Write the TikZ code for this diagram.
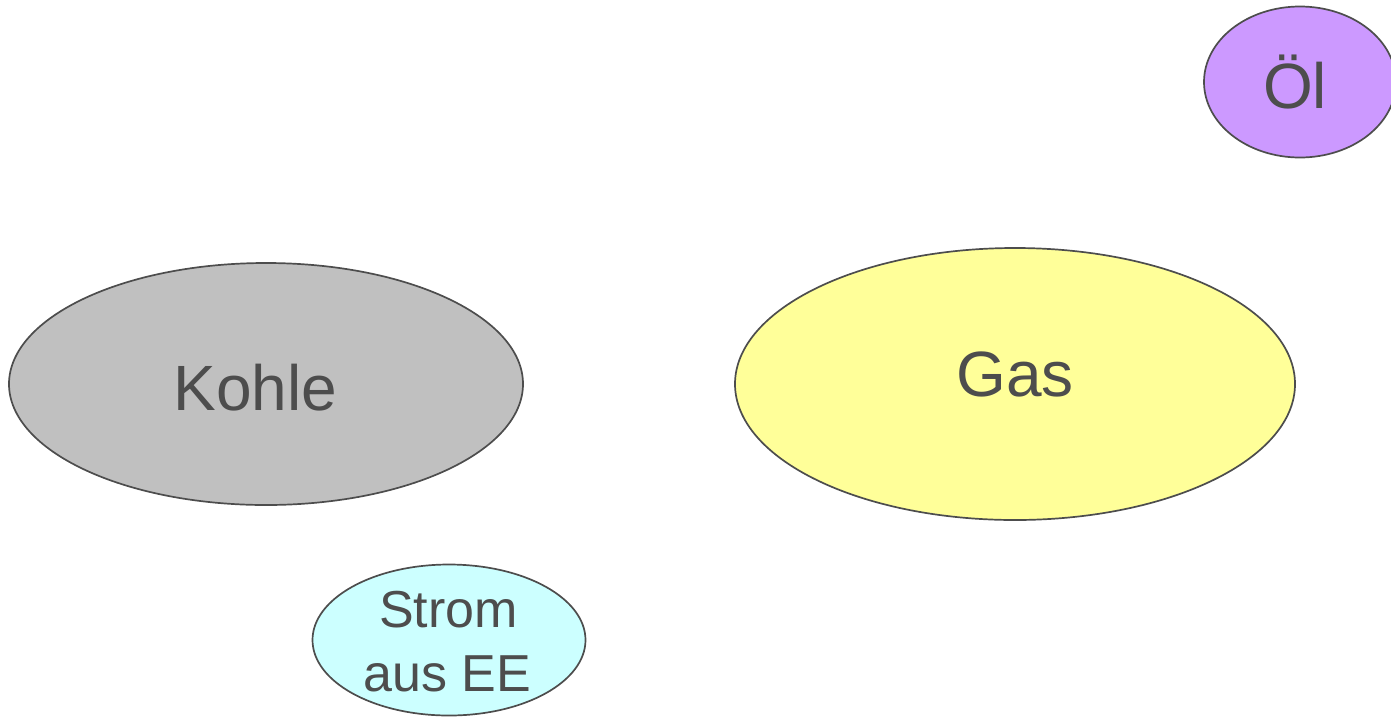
\documentclass[tikz,border=0pt]{standalone}
\usepackage{fontspec}
\setmainfont{Liberation Sans}
\usetikzlibrary{shapes.geometric}
\definecolor{ink}{HTML}{4D4D4D}
\definecolor{coal}{HTML}{C0C0C0}
\definecolor{gasfill}{HTML}{FFFF99}
\definecolor{oilfill}{HTML}{CC99FF}
\definecolor{eefill}{HTML}{CCFFFF}
\begin{document}
\begin{tikzpicture}[x=1pt,y=-1pt,
  blob/.style={ellipse, draw=ink, line width=1.7pt, inner sep=0pt},
  big/.style={text=ink, inner sep=0pt, anchor=base, font=\fontsize{64}{77}\selectfont},
  small/.style={text=ink, inner sep=0pt, anchor=base, font=\fontsize{52}{64}\selectfont}]
\useasboundingbox (0,0) rectangle (1391,716);
\clip (0,0) rectangle (1391,716);
% energy carriers
\node[blob, fill=coal, minimum width=514pt, minimum height=242pt] (kohle) at (266,384) {};
\node[blob, fill=gasfill, minimum width=560pt, minimum height=272pt] (gas) at (1015,384) {};
\node[blob, fill=oilfill, minimum width=192pt, minimum height=151pt] (oel) at (1300,82) {};
\node[blob, fill=eefill, minimum width=273pt, minimum height=151pt] (ee) at (449,640) {};
% labels
\node[big] (kohleT) at (255.5,410.5) {Kohle};
\node[big] (gasT) at (1015,396) {Gas};
\node[big] (oelT) at (1295,108.5) {Öl};
\node[small] (eeT1) at (448.5,627) {Strom};
\node[small] (eeT2) at (447.5,691) {aus EE};
\end{tikzpicture}
\end{document}
